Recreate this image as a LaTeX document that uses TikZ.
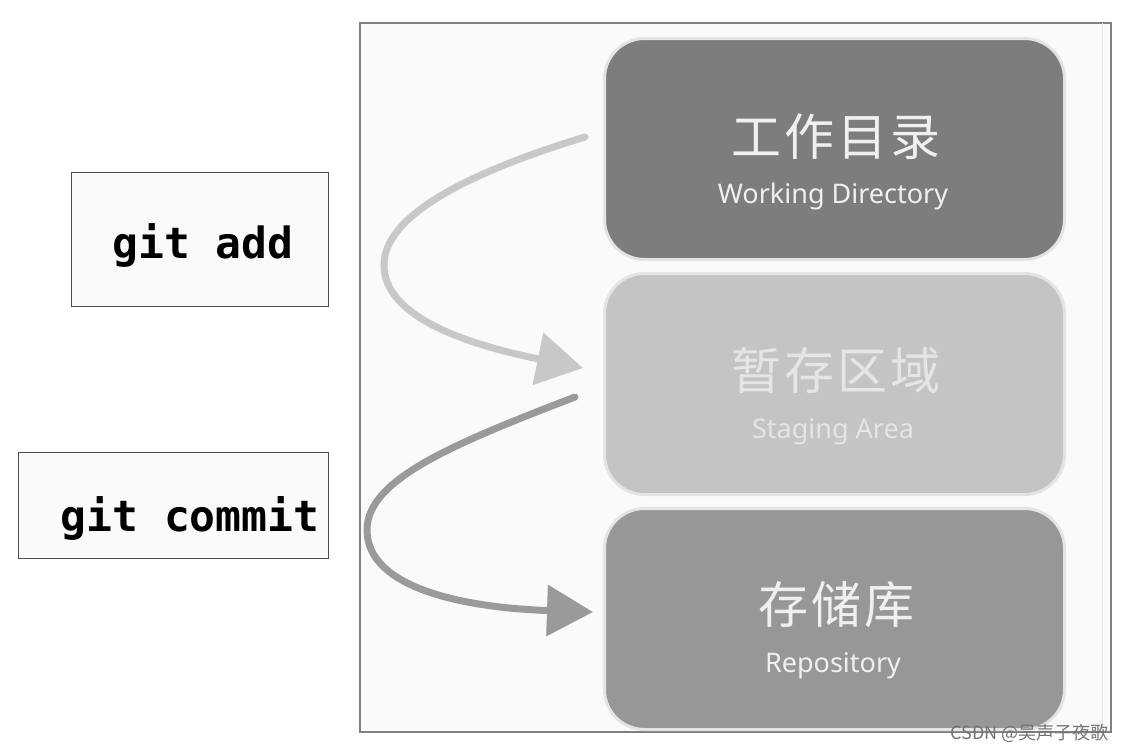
\documentclass[tikz,border=0pt]{standalone}
\usepackage{fontspec}
\newfontfamily\cjk{Noto Sans CJK SC}
\newfontfamily\cjkspaced{Noto Sans CJK SC}[LetterSpace=6]
\newfontfamily\monof{DejaVu Sans Mono}
\newfontfamily\engf{Noto Sans}
\usetikzlibrary{arrows.meta}
\definecolor{frameC}{HTML}{808080}
\definecolor{bgC}{HTML}{FAFAFA}
\definecolor{boxA}{HTML}{7D7D7D}
\definecolor{boxB}{HTML}{C4C4C4}
\definecolor{boxC}{HTML}{979797}
\definecolor{glowC}{HTML}{E4E4E4}
\definecolor{arrA}{HTML}{C8C8C8}
\definecolor{arrB}{HTML}{9A9A9A}
\tikzset{
  stage/.style={draw=glowC, line width=3pt, rounded corners=40pt, minimum width=460pt, minimum height=221pt, inner sep=0pt},
  cmdbox/.style={draw=black!70, line width=1.2pt, fill=bgC, inner sep=0pt},
  cmdtext/.style={font=\monof\bfseries\fontsize{43}{43}\selectfont, text=black},
  zhtext/.style={font=\cjkspaced\fontsize{50}{50}\selectfont},
  entext/.style={font=\engf\fontsize{27}{27}\selectfont},
  flow/.style={line width=7pt, line cap=round},
}
\begin{document}
\begin{tikzpicture}[x=1pt,y=-1pt]
\useasboundingbox[fill=white] (0,0) rectangle (1128,750);
% main frame
\node[draw=frameC, line width=1.5pt, fill=bgC, minimum width=751pt, minimum height=709pt, inner sep=0pt, anchor=north west] (frame) at (359,22) {};
\draw[glowC, line width=1pt] (1102,23) -- (1102,730);
% stage boxes
\node[stage, fill=boxA, anchor=north west] (wd) at (603,37) {};
\node[stage, fill=boxB, anchor=north west] (sa) at (603,272) {};
\node[stage, fill=boxC, anchor=north west] (repo) at (603,507) {};
\node[zhtext, text=white!94!black] (wdz) at (836,137) {工作目录};
\node[entext, text=white!94!black] (wde) at (833,196) {Working Directory};
\node[zhtext, text=white!90!black] (saz) at (836,370) {暂存区域};
\node[entext, text=white!90!black] (sae) at (833,432) {Staging Area};
\node[zhtext, text=white!94!black] (repz) at (836,605) {存储库};
\node[entext, text=white!94!black] (repe) at (833,666) {Repository};
% command boxes
\node[cmdbox, minimum width=257pt, minimum height=134pt, anchor=north west] (add) at (71,172) {};
\node[cmdtext] (addt) at (203,245) {git add};
\node[cmdbox, minimum width=310pt, minimum height=106pt, anchor=north west] (commit) at (18,452) {};
\node[cmdtext] (committ) at (190,518) {git commit};
% arrows
\coordinate (a1s) at (585,137);
\coordinate (a1m) at (384,265);
\coordinate (a1e) at (583,368);
\coordinate (a2s) at (575,397);
\coordinate (a2m) at (367,530);
\coordinate (a2e) at (593,612);
\draw[flow, arrA, -{Triangle[length=46pt,width=52pt]}]
  (a1s) .. controls (470,172) and (384,215) .. (a1m)
  .. controls (384,318) and (470,345) .. (a1e);
\draw[flow, arrB, -{Triangle[length=46pt,width=50pt]}]
  (a2s) .. controls (450,445) and (367,480) .. (a2m)
  .. controls (367,590) and (470,608) .. (a2e);
% watermark
\node[font=\cjk\fontsize{18}{18}\selectfont, text=black!55, anchor=east] (wm) at (1112,733) {CSDN @吴声子夜歌};
\end{tikzpicture}
\end{document}
